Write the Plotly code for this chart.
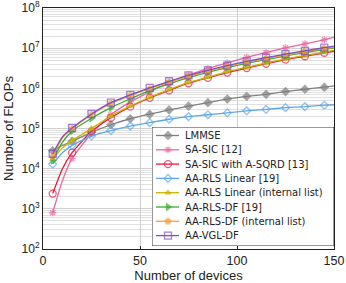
import plotly.graph_objects as go

devices = [5, 10, 15, 25, 35, 45, 55, 65, 75, 85, 95, 105, 115, 125, 135, 145, 150]

lmmse = [2.8e4, 3.8e4, 4.8e4, 8.0e4, 1.24e5, 1.75e5, 2.27e5, 2.9e5, 3.6e5, 4.4e5, 5.4e5, 6.3e5, 7.1e5, 8.3e5, 9.5e5, 1.07e6, 1.15e6]
sa_sic = [8e2, 5e3, 1.8e4, 7.5e4, 2.2e5, 4.6e5, 8.2e5, 1.4e6, 2.15e6, 3.1e6, 4.3e6, 5.9e6, 7.8e6, 1.02e7, 1.28e7, 1.62e7, 1.85e7]
sa_sic_sqrd = [2.4e3, 1.0e4, 2.5e4, 8.5e4, 1.85e5, 3.5e5, 5.8e5, 8.9e5, 1.34e6, 1.83e6, 2.47e6, 3.2e6, 4.1e6, 5.2e6, 6.3e6, 7.7e6, 8.4e6]
aa_rls_lin = [1.3e4, 2.5e4, 3.8e4, 6.5e4, 8.9e4, 1.15e5, 1.4e5, 1.7e5, 1.97e5, 2.2e5, 2.45e5, 2.75e5, 3.0e5, 3.3e5, 3.5e5, 3.8e5, 3.9e5]
aa_rls_lin_int = [1.7e4, 3.3e4, 5.0e4, 1.0e5, 2.05e5, 3.6e5, 6.0e5, 9.3e5, 1.4e6, 1.9e6, 2.6e6, 3.35e6, 4.3e6, 5.4e6, 6.6e6, 8.0e6, 8.8e6]
aa_rls_df = [1.6e4, 4.5e4, 8.7e4, 1.8e5, 3.3e5, 5.5e5, 8.8e5, 1.3e6, 1.85e6, 2.5e6, 3.3e6, 4.2e6, 5.2e6, 6.4e6, 7.8e6, 9.3e6, 1.02e7]
aa_rls_df_int = [2.0e4, 5.8e4, 9.8e4, 2.2e5, 4.2e5, 6.6e5, 9.8e5, 1.43e6, 2.0e6, 2.65e6, 3.5e6, 4.5e6, 5.5e6, 6.8e6, 8.2e6, 9.8e6, 1.07e7]
aa_vgl_df = [2.35e4, 6.2e4, 1.03e5, 2.3e5, 4.4e5, 6.9e5, 1.03e6, 1.5e6, 2.1e6, 2.8e6, 3.7e6, 4.7e6, 5.8e6, 7.1e6, 8.6e6, 1.03e7, 1.12e7]

names = ["LMMSE", "SA-SIC [12]", "SA-SIC with A-SQRD [13]", "AA-RLS Linear [19]",
         "AA-RLS Linear (internal list)", "AA-RLS-DF [19]", "AA-RLS-DF (internal list)", "AA-VGL-DF"]
series = [lmmse, sa_sic, sa_sic_sqrd, aa_rls_lin, aa_rls_lin_int, aa_rls_df, aa_rls_df_int, aa_vgl_df]
colors = ["#808080", "#e8679f", "#e8173c", "#5ea6e8", "#c8b400", "#3aaa35", "#f5a040", "#7d4fc4"]
symbols = ["diamond", "asterisk-open", "circle-open", "diamond-open", "triangle-up",
           "triangle-right", "pentagon", "square-open"]
msizes = [6, 6, 7, 6, 5, 6, 6, 7]

fig = go.Figure()
for name, ys, c, s, ms in zip(names, series, colors, symbols, msizes):
    sizes = [ms if (x % 10 == 5) else 0 for x in devices]
    fig.add_trace(go.Scatter(
        x=devices, y=ys, name=name, mode="lines+markers", showlegend=False,
        line=dict(color=c, width=1.3, shape="spline", smoothing=0.5),
        marker=dict(symbol=s, size=sizes, color=c, line=dict(color=c, width=1.3)),
        xaxis="x", yaxis="y",
    ))

# ---- custom compact legend drawn on its own small axes (units: pixels) ----
LW, LH = 182, 119          # legend box size in px
ROW0, ROWSTEP = 8.5, 14.3  # first row offset and row pitch in px
fig.add_trace(go.Scatter(
    x=[0, LW, LW, 0, 0], y=[0, 0, LH, LH, 0], mode="lines", fill="toself",
    fillcolor="white", line=dict(color="#333", width=1), showlegend=False,
    hoverinfo="skip", xaxis="x2", yaxis="y2",
))
for i, (name, c, s, ms) in enumerate(zip(names, colors, symbols, msizes)):
    yy = ROW0 + ROWSTEP * i
    fig.add_trace(go.Scatter(
        x=[4, 16, 27], y=[yy, yy, yy], mode="lines+markers", showlegend=False,
        line=dict(color=c, width=1.3),
        marker=dict(symbol=s, size=[0, ms, 0], color=c, line=dict(color=c, width=1.3)),
        hoverinfo="skip", xaxis="x2", yaxis="y2",
    ))
    fig.add_annotation(
        x=31, y=yy, xref="x2", yref="y2", text=name, showarrow=False,
        xanchor="left", yanchor="middle",
        font=dict(family="DejaVu Sans", size=10, color="#222"),
    )

tickvals = [10 ** k for k in range(2, 9)]
ticktext = ["10<sup>%d</sup>" % k for k in range(2, 9)]

PL, PR, PT, PB = 43, 12, 8, 34
W, H = 346, 283
pw, ph = W - PL - PR, H - PT - PB

fig.update_layout(
    width=W, height=H,
    margin=dict(l=PL, r=PR, t=PT, b=PB),
    paper_bgcolor="white", plot_bgcolor="white",
    font=dict(family="Liberation Sans, Arial", size=12, color="#222"),
    showlegend=False,
    xaxis=dict(
        domain=[0, 1], anchor="y",
        range=[0, 150], tickvals=[0, 50, 100, 150],
        showgrid=True, gridcolor="#cfcfcf", gridwidth=1,
        showline=True, linecolor="#222", linewidth=1, mirror=True,
        ticks="inside", ticklen=3, tickcolor="#222",
        tickfont=dict(size=12.5), automargin=False, ticklabeloverflow="allow",
        title=dict(text="Number of devices", font=dict(size=13), standoff=7),
        zeroline=False,
    ),
    yaxis=dict(
        domain=[0, 1], anchor="x",
        type="log", range=[2, 8.0005], tickvals=tickvals, ticktext=ticktext,
        showgrid=True, gridcolor="#cfcfcf", gridwidth=1,
        minor=dict(showgrid=True, gridcolor="#e0e0e0", gridwidth=1, dtick="D1", ticks=""),
        showline=True, linecolor="#222", linewidth=1, mirror=True,
        ticks="", tickfont=dict(size=12), automargin=False, ticklabeloverflow="allow",
        title=dict(text="Number of FLOPs", font=dict(size=13), standoff=5),
        zeroline=False,
    ),
    xaxis2=dict(domain=[(152 - PL) / pw, (152 - PL + LW) / pw], range=[0, LW],
                visible=False, fixedrange=True, anchor="y2"),
    yaxis2=dict(domain=[(H - PB - (127 + LH)) / ph, (H - PB - 127) / ph], range=[LH, 0],
                visible=False, fixedrange=True, anchor="x2"),
)

fig.write_html("out.html", config={"displayModeBar": False},
               post_script="document.body.style.margin='0';document.body.style.padding='0';")
